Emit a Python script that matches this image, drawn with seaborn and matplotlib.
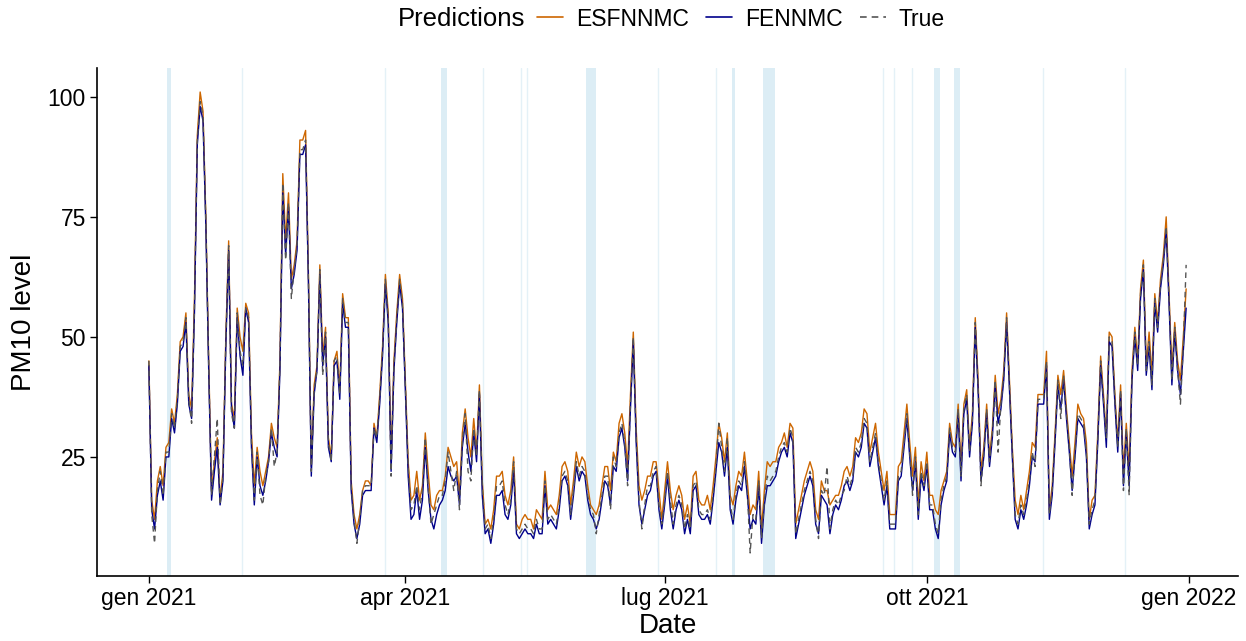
import numpy as np
import pandas as pd
import matplotlib
matplotlib.use('Agg')
import matplotlib.pyplot as plt
import seaborn as sns
from matplotlib.lines import Line2D

dates = pd.date_range('2021-01-01', '2021-12-31', freq='D')

esf = [45, 16, 12, 20, 23, 19, 27, 28, 35, 32,
       38, 49, 50, 55, 38, 35, 58, 92, 101, 97,
       75, 45, 18, 24, 29, 16, 22, 50, 70, 36,
       33, 56, 50, 47, 57, 55, 30, 19, 27, 22,
       19, 22, 25, 32, 29, 27, 45, 84, 70, 80,
       62, 65, 70, 91, 91, 93, 63, 23, 40, 44,
       65, 46, 52, 29, 25, 45, 47, 39, 59, 54,
       54, 20, 13, 10, 13, 18, 20, 20, 19, 32,
       29, 38, 48, 63, 55, 24, 45, 55, 63, 58,
       41, 24, 16, 17, 22, 16, 19, 30, 22, 15,
       14, 17, 18, 18, 21, 27, 25, 23, 24, 17,
       30, 35, 29, 25, 33, 26, 40, 20, 11, 12,
       10, 14, 21, 21, 22, 17, 15, 18, 25, 11,
       10, 12, 13, 12, 12, 10, 14, 13, 12, 22,
       14, 15, 14, 13, 17, 23, 24, 22, 15, 20,
       26, 23, 25, 24, 19, 15, 14, 13, 15, 19,
       23, 23, 18, 26, 24, 32, 34, 30, 23, 38,
       51, 31, 19, 16, 18, 21, 21, 24, 24, 18,
       12, 18, 24, 18, 14, 17, 19, 17, 12, 15,
       11, 21, 22, 16, 15, 15, 17, 14, 19, 25,
       32, 29, 24, 30, 17, 15, 19, 22, 21, 26,
       20, 13, 15, 14, 22, 10, 18, 24, 23, 24,
       24, 27, 28, 30, 27, 32, 31, 11, 14, 17,
       20, 22, 24, 22, 14, 12, 20, 18, 18, 15,
       16, 17, 17, 19, 22, 23, 21, 23, 29, 28,
       30, 35, 34, 26, 29, 32, 26, 22, 18, 22,
       13, 13, 13, 23, 24, 30, 36, 28, 21, 27,
       15, 24, 20, 26, 17, 17, 14, 13, 18, 20,
       22, 32, 28, 27, 36, 23, 36, 39, 27, 34,
       54, 41, 22, 27, 36, 25, 31, 42, 34, 37,
       43, 55, 41, 27, 16, 13, 17, 14, 18, 22,
       28, 27, 38, 38, 38, 47, 14, 19, 30, 42,
       38, 43, 35, 28, 21, 28, 36, 34, 33, 28,
       12, 16, 17, 30, 46, 38, 29, 51, 50, 38,
       28, 40, 22, 32, 22, 43, 52, 45, 60, 66,
       44, 51, 42, 59, 53, 62, 67, 75, 59, 43,
       53, 45, 41, 50, 60]

fen = [44, 14, 10, 17, 20, 16, 25, 25, 33, 30,
       36, 47, 48, 53, 36, 33, 55, 90, 98, 95,
       73, 43, 16, 22, 27, 15, 20, 48, 68, 35,
       31, 54, 46, 42, 56, 53, 27, 15, 25, 19,
       17, 20, 24, 30, 27, 25, 43, 80, 67, 77,
       60, 63, 68, 88, 88, 90, 61, 21, 38, 43,
       63, 44, 50, 27, 24, 44, 45, 37, 57, 52,
       52, 18, 11, 8, 11, 17, 18, 18, 18, 31,
       28, 36, 46, 61, 53, 22, 43, 53, 61, 56,
       39, 21, 12, 13, 18, 12, 16, 27, 18, 12,
       10, 13, 15, 16, 18, 23, 21, 20, 21, 15,
       27, 32, 26, 22, 30, 24, 38, 17, 9, 10,
       7, 11, 17, 17, 18, 13, 12, 15, 22, 9,
       8, 9, 10, 9, 9, 8, 11, 9, 9, 19,
       11, 12, 11, 10, 14, 20, 21, 19, 12, 17,
       23, 20, 22, 21, 16, 13, 12, 10, 12, 16,
       20, 19, 15, 23, 22, 29, 31, 27, 20, 35,
       49, 28, 15, 11, 14, 17, 18, 21, 22, 14,
       10, 15, 21, 14, 10, 14, 16, 14, 9, 12,
       9, 18, 19, 13, 12, 12, 13, 11, 16, 22,
       28, 26, 21, 27, 14, 11, 16, 19, 18, 23,
       17, 10, 12, 11, 19, 7, 15, 19, 19, 20,
       21, 24, 26, 27, 25, 30, 28, 8, 11, 14,
       17, 19, 21, 19, 11, 9, 17, 16, 15, 9,
       13, 15, 14, 16, 19, 20, 18, 20, 26, 25,
       27, 32, 31, 23, 26, 29, 23, 19, 15, 19,
       10, 10, 10, 20, 21, 27, 33, 25, 18, 24,
       12, 21, 18, 23, 14, 14, 10, 8, 15, 18,
       20, 30, 26, 25, 34, 20, 34, 37, 25, 32,
       52, 39, 20, 25, 34, 23, 29, 40, 32, 35,
       41, 53, 39, 25, 12, 10, 14, 12, 15, 19,
       25, 24, 36, 36, 36, 44, 12, 17, 28, 40,
       35, 41, 33, 26, 18, 25, 33, 32, 31, 25,
       10, 13, 15, 28, 44, 36, 27, 49, 48, 36,
       26, 38, 19, 30, 19, 41, 50, 43, 58, 64,
       42, 48, 39, 57, 51, 60, 65, 72, 57, 40,
       51, 43, 38, 47, 56]

true_vals = [45, 13, 7, 18, 22, 17, 26, 26, 34, 31,
             37, 48, 49, 54, 37, 32, 56, 91, 99, 96,
             74, 44, 17, 25, 33, 15, 21, 49, 69, 34,
             31, 55, 47, 44, 56, 54, 28, 16, 26, 17,
             15, 21, 24, 31, 23, 26, 44, 82, 66, 78,
             58, 64, 69, 89, 89, 91, 62, 22, 39, 43,
             64, 42, 51, 28, 24, 45, 46, 38, 58, 53,
             53, 19, 12, 7, 12, 18, 19, 19, 19, 31,
             29, 37, 47, 62, 54, 21, 44, 54, 62, 57,
             40, 23, 14, 15, 19, 14, 18, 29, 19, 11,
             13, 15, 17, 17, 20, 26, 22, 18, 22, 14,
             28, 34, 22, 20, 31, 25, 39, 19, 10, 11,
             8, 12, 19, 19, 20, 15, 13, 16, 24, 10,
             9, 10, 11, 10, 10, 9, 12, 10, 10, 20,
             12, 13, 12, 11, 15, 21, 22, 20, 13, 18,
             24, 21, 23, 22, 17, 14, 13, 9, 13, 17,
             21, 21, 14, 25, 23, 30, 32, 28, 19, 36,
             50, 29, 16, 10, 15, 19, 19, 22, 23, 15,
             11, 16, 22, 16, 11, 15, 17, 15, 10, 13,
             10, 19, 20, 14, 13, 13, 14, 12, 17, 23,
             32, 27, 22, 29, 15, 12, 17, 20, 19, 24,
             18, 5, 13, 12, 20, 8, 16, 21, 20, 21,
             22, 25, 27, 28, 26, 31, 29, 9, 12, 15,
             18, 20, 22, 20, 12, 8, 18, 17, 23, 10,
             14, 16, 15, 17, 18, 21, 19, 21, 27, 26,
             28, 33, 32, 24, 27, 30, 24, 20, 16, 20,
             11, 11, 11, 21, 22, 28, 34, 26, 17, 25,
             13, 22, 19, 24, 15, 15, 11, 9, 16, 19,
             21, 31, 27, 26, 35, 21, 35, 38, 26, 33,
             53, 40, 19, 26, 35, 24, 30, 41, 26, 36,
             42, 54, 40, 26, 13, 11, 15, 13, 16, 20,
             26, 23, 37, 37, 37, 45, 13, 18, 29, 41,
             33, 42, 34, 27, 17, 26, 34, 33, 32, 26,
             11, 14, 16, 29, 45, 37, 29, 50, 49, 37,
             27, 39, 18, 31, 17, 42, 51, 44, 59, 65,
             43, 49, 40, 58, 52, 61, 66, 73, 58, 41,
             52, 43, 36, 48, 65]

series_names = ['ESFNNMC', 'FENNMC', 'True']
series_colors = ['#CD6600', '#00008B', '#555555']

tick_dates = ['2021-01-01', '2021-04-01', '2021-07-01', '2021-10-01', '2022-01-01']
tick_labels = ['gen 2021', 'apr 2021', 'lug 2021', 'ott 2021', 'gen 2022']

band_spans = [('2021-01-07 10:00', '2021-01-08 20:00'),
              ('2021-04-13 14:00', '2021-04-15 19:00'),
              ('2021-06-03 12:00', '2021-06-06 19:00'),
              ('2021-07-24 14:00', '2021-07-25 17:00'),
              ('2021-08-04 10:00', '2021-08-08 17:00'),
              ('2021-10-03 14:00', '2021-10-05 19:00'),
              ('2021-10-10 14:00', '2021-10-12 19:00')]
band_lines = ['2021-02-02 17:00', '2021-03-24 17:00', '2021-04-28 10:00',
              '2021-05-11 12:00', '2021-05-13 14:00', '2021-06-28 17:00',
              '2021-07-18 22:00', '2021-09-15 12:00', '2021-09-19 14:00',
              '2021-09-25 19:00', '2021-11-10 17:00', '2021-12-09 12:00']

# ---- build long table ----
df = pd.DataFrame({
    'Date': np.concatenate([dates, dates, dates]),
    'value': np.concatenate([esf, fen, true_vals]).astype(float),
    'series': np.repeat(series_names, len(dates)),
})

sns.set_theme(style='white')
plt.rcParams['font.family'] = ['Liberation Sans', 'DejaVu Sans']
plt.rcParams['text.color'] = 'black'
plt.rcParams['axes.labelcolor'] = 'black'

fig = plt.figure(figsize=(12.46, 6.41), dpi=100)
ax = fig.add_axes([97/1246, 1-576/641, (1238-97)/1246, (576-68)/641])

band_color = '#dcedf5'
for s, e in band_spans:
    ax.axvspan(pd.Timestamp(s), pd.Timestamp(e), color=band_color, lw=0, zorder=0)
for d in band_lines:
    ax.axvline(pd.Timestamp(d), color='#e4f1f7', lw=1.0, zorder=0)

palette = dict(zip(series_names, series_colors))
sns.lineplot(data=df, x='Date', y='value', hue='series', style='series',
             hue_order=series_names, style_order=series_names,
             palette=palette,
             dashes={'ESFNNMC': '', 'FENNMC': '', 'True': (4, 3)},
             linewidth=1.0, estimator=None, legend=False, ax=ax, zorder=2)

x0 = pd.Timestamp('2021-01-01') - pd.Timedelta(days=18.2)
x1 = pd.Timestamp('2021-12-31') + pd.Timedelta(days=18.2)
ax.set_xlim(x0, x1)
ax.set_ylim(0.2, 106)

ax.set_xticks([pd.Timestamp(t) for t in tick_dates])
ax.set_xticklabels(tick_labels)
ax.set_yticks([25, 50, 75, 100])
ax.set_yticklabels(['25', '50', '75', '100'])

for side in ['top', 'right']:
    ax.spines[side].set_visible(False)
for side in ['left', 'bottom']:
    ax.spines[side].set_color('black')
    ax.spines[side].set_linewidth(1.2)

ax.tick_params(axis='both', which='major', length=5, width=1.0, color='black',
               labelsize=16.5, labelcolor='black', direction='out', pad=3,
               bottom=True, left=True)
ax.set_xlabel('Date', fontsize=20, color='black', labelpad=2)
ax.set_ylabel('PM10 level', fontsize=20, color='black', labelpad=8)
ax.grid(False)
ax.set_facecolor('white')

# legend
handles = [Line2D([], [], color=series_colors[0], lw=1.2),
           Line2D([], [], color=series_colors[1], lw=1.2),
           Line2D([], [], color=series_colors[2], lw=1.2, ls=(0, (4, 3)))]
fig.text(398/1246, 1-19/641, 'Predictions', fontsize=18.5, va='center', ha='left',
         color='black')
leg = fig.legend(handles, series_names, loc='center left',
                 bbox_to_anchor=(537/1246, 1-19/641), ncol=3, frameon=False,
                 fontsize=16.5, handlelength=1.15, handletextpad=0.55,
                 columnspacing=0.75, borderaxespad=0, borderpad=0)
for t in leg.get_texts():
    t.set_color('black')

fig.savefig('out.png', dpi=100, facecolor='white')
